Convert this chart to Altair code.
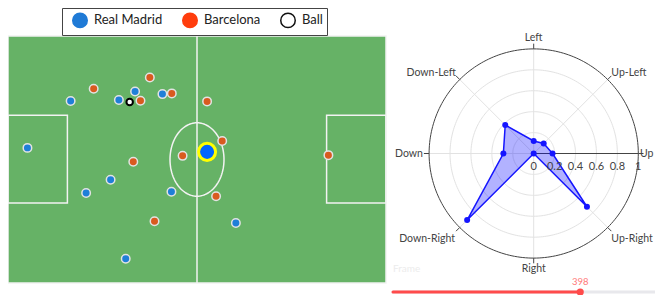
import altair as alt
import numpy as np
import pandas as pd

# ---------------- data ----------------
teams = ["Real Madrid", "Barcelona", "Ball"]
legend_fill = ["#1f7ad6", "#ff3d0d", "#ffffff"]
legend_stroke = ["#1f7ad6", "#ff3d0d", "#111111"]

# player positions on a 105 x 68 pitch (metres, y measured from bottom touchline)
rm_x = [35.3, 42.9, 17.4, 30.8, 5.4, 28.5, 21.7, 45.4, 32.7, 63.3]
rm_y = [52.7, 52.0, 50.1, 50.4, 37.2, 28.4, 24.8, 25.1, 6.7, 16.5]
fcb_x = [39.4, 23.8, 45.5, 36.8, 48.5, 34.8, 40.7, 55.3, 59.5, 89.0, 57.8]
fcb_y = [56.6, 53.5, 52.2, 50.2, 35.0, 33.4, 17.0, 50.0, 39.1, 35.2, 23.9]
ball_x = [33.8]
ball_y = [49.8]
carrier_x = [55.3]
carrier_y = [36.1]

directions = ["Up", "Up-Left", "Left", "Down-Left", "Down", "Down-Right", "Right", "Up-Right"]
dir_angles = [0, 45, 90, 135, 180, 225, 270, 315]
dir_values = [0.18, 0.135, 0.12, 0.385, 0.29, 0.90, 0.0, 0.72]
radial_ticks = [0, 0.2, 0.4, 0.6, 0.8, 1]
radial_tick_labels = ["0", "0.2", "0.4", "0.6", "0.8", "1"]

frame_label = "Frame"
frame_min = 0
frame_max = 574
frame_current = 398

# ---------------- layout ----------------
W, H = 647, 287
PITCH_L, PITCH_W = 105.0, 68.0
F_PX0, F_PX1 = 0.0, 378.0
F_PY0, F_PY1 = 28.0, 275.0
kx = (F_PX1 - F_PX0) / PITCH_L
ky = (F_PY1 - F_PY0) / PITCH_W
fxs = alt.Scale(domain=[-F_PX0 / kx, (W - F_PX0) / kx], nice=False, zero=False)
fys = alt.Scale(domain=[-(H - F_PY1) / ky, PITCH_W + F_PY0 / ky], nice=False, zero=False)

RCX, RCY, RR = 525.7, 145.5, 104.6
rxs = alt.Scale(domain=[-RCX / RR, (W - RCX) / RR], nice=False, zero=False)
rys = alt.Scale(domain=[-(H - RCY) / RR, RCY / RR], nice=False, zero=False)

S_PX0, S_PX1, S_PY = 385.0, 655.0, 284
ks = (S_PX1 - S_PX0) / (frame_max - frame_min)
sxs = alt.Scale(domain=[frame_min - S_PX0 / ks, frame_min + (W - S_PX0) / ks], nice=False, zero=False)

FONT = "Lato"
GREEN = "#66b266"
LINE = "#f2f2f2"


def FX(f):
    return alt.X(f"{f}:Q", scale=fxs, axis=None)


def FY(f):
    return alt.Y(f"{f}:Q", scale=fys, axis=None)


def RX(f):
    return alt.X(f"{f}:Q", scale=rxs, axis=None)


def RY(f):
    return alt.Y(f"{f}:Q", scale=rys, axis=None)


# ---------------- pitch ----------------
pitch_df = pd.DataFrame({"x": [0.0], "x2": [PITCH_L], "y": [0.0], "y2": [PITCH_W]})
pitch = alt.Chart(pitch_df).mark_rect(fill=GREEN, stroke=LINE, strokeWidth=1.5).encode(
    x=FX("x"), x2="x2", y=FY("y"), y2="y2")

mid_df = pd.DataFrame({"x": [PITCH_L / 2], "y": [0.0], "y2": [PITCH_W]})
midline = alt.Chart(mid_df).mark_rule(color=LINE, strokeWidth=1.5).encode(x=FX("x"), y=FY("y"), y2="y2")

box_df = pd.DataFrame({"x": [0.0, PITCH_L - 16.5], "x2": [16.5, PITCH_L],
                       "y": [22.0, 22.0], "y2": [46.2, 46.2]})
boxes = alt.Chart(box_df).mark_rect(fillOpacity=0, stroke=LINE, strokeWidth=1.5).encode(
    x=FX("x"), x2="x2", y=FY("y"), y2="y2")

t = np.linspace(0, 2 * np.pi, 121)
circ_df = pd.DataFrame({"i": np.arange(len(t)),
                        "x": PITCH_L / 2 + 7.5 * np.cos(t),
                        "y": PITCH_W / 2 + 10.1 * np.sin(t)})
centre = alt.Chart(circ_df).mark_line(color=LINE, strokeWidth=1.5).encode(
    x=FX("x"), y=FY("y"), order="i:Q")

rm_df = pd.DataFrame({"x": rm_x, "y": rm_y})
fcb_df = pd.DataFrame({"x": fcb_x, "y": fcb_y})
rm_pts = alt.Chart(rm_df).mark_circle(size=72, fill="#1f7fd8", stroke="#e3e3e3",
                                      strokeWidth=1.5, opacity=1).encode(x=FX("x"), y=FY("y"))
fcb_pts = alt.Chart(fcb_df).mark_circle(size=72, fill="#d95a1f", stroke="#e3e3e3",
                                        strokeWidth=1.5, opacity=1).encode(x=FX("x"), y=FY("y"))
ball = alt.Chart(pd.DataFrame({"x": ball_x, "y": ball_y})).mark_circle(
    size=42, fill="white", stroke="black", strokeWidth=2, opacity=1).encode(x=FX("x"), y=FY("y"))
carrier = alt.Chart(pd.DataFrame({"x": carrier_x, "y": carrier_y})).mark_circle(
    size=290, fill="#0066ff", stroke="#ffff00", strokeWidth=3, opacity=1).encode(x=FX("x"), y=FY("y"))

# legend (entries drawn from an off-canvas layer)
leg = alt.Legend(orient="none", legendX=54, legendY=0, direction="horizontal", title=None,
                 strokeColor="#444", padding=4, symbolOffset=6, symbolSize=210, symbolStrokeWidth=1.5,
                 symbolType="circle", labelFontSize=13, labelFont=FONT, labelColor="#222",
                 columnPadding=13, labelOffset=6, fillColor="white")
legend_df = pd.DataFrame({"team": teams, "x": [-400.0] * 3, "y": [-400.0] * 3})
legend_layer = alt.Chart(legend_df).mark_circle(size=10, opacity=1).encode(
    x=FX("x"), y=FY("y"),
    fill=alt.Fill("team:N", scale=alt.Scale(domain=teams, range=legend_fill), legend=leg),
    stroke=alt.Stroke("team:N", scale=alt.Scale(domain=teams, range=legend_stroke), legend=leg),
)

# ---------------- radar ----------------
tt = np.linspace(0, 2 * np.pi, 241)
ring_rows = []
for r in radial_ticks[1:]:
    for i, a in enumerate(tt):
        ring_rows.append({"r": r, "i": i, "u": r * np.cos(a), "v": r * np.sin(a)})
ring_df = pd.DataFrame(ring_rows)
rings = alt.Chart(ring_df).transform_filter("datum.r < 1").mark_line(color="#e2e2e2", strokeWidth=1).encode(
    x=RX("u"), y=RY("v"), detail="r:N", order="i:Q")
outer = alt.Chart(ring_df).transform_filter("datum.r >= 1").mark_line(color="#444", strokeWidth=1).encode(
    x=RX("u"), y=RY("v"), order="i:Q")

spoke_rows, tick_rows = [], []
for d, a in zip(directions, dir_angles):
    ar = np.deg2rad(a)
    for k, r in enumerate([0.0, 1.0]):
        spoke_rows.append({"d": d, "k": k, "u": r * np.cos(ar), "v": r * np.sin(ar), "a": a})
    for k, r in enumerate([1.0, 1.05]):
        tick_rows.append({"d": d, "k": k, "u": r * np.cos(ar), "v": r * np.sin(ar)})
spoke_df = pd.DataFrame(spoke_rows)
spokes = alt.Chart(spoke_df).transform_filter("datum.a != 0").mark_line(color="#e2e2e2", strokeWidth=1).encode(
    x=RX("u"), y=RY("v"), detail="d:N", order="k:Q")
raxis = alt.Chart(spoke_df).transform_filter("datum.a == 0").mark_line(color="#444", strokeWidth=1).encode(
    x=RX("u"), y=RY("v"), order="k:Q")
ticks = alt.Chart(pd.DataFrame(tick_rows)).mark_line(color="#444", strokeWidth=1).encode(
    x=RX("u"), y=RY("v"), detail="d:N", order="k:Q")

rt_df = pd.DataFrame({"r": radial_ticks, "lab": radial_tick_labels, "v": [0.0] * len(radial_ticks)})
rt_labels = alt.Chart(rt_df).mark_text(baseline="top", dy=7, fontSize=11, font=FONT, color="#444").encode(
    x=RX("r"), y=RY("v"), text="lab:N")

poly_df = pd.DataFrame({
    "d": directions, "k": np.arange(len(directions)),
    "u": [v * np.cos(np.deg2rad(a)) for v, a in zip(dir_values, dir_angles)],
    "v": [v * np.sin(np.deg2rad(a)) for v, a in zip(dir_values, dir_angles)],
})
poly = alt.Chart(poly_df).mark_line(interpolate="linear-closed", color="#1515ff", strokeWidth=1.5,
                                    fill="#0000ff", fillOpacity=0.3).encode(
    x=RX("u"), y=RY("v"), order="k:Q")
poly_pts = alt.Chart(poly_df).mark_circle(size=36, color="#1515ff", opacity=1).encode(x=RX("u"), y=RY("v"))

lab_df = pd.DataFrame({
    "d": directions,
    "u": [1.05 * np.cos(np.deg2rad(a)) for a in dir_angles],
    "v": [1.05 * np.sin(np.deg2rad(a)) for a in dir_angles],
})
label_specs = {
    "Up": dict(align="left", baseline="middle", dx=-3.5, dy=0),
    "Up-Left": dict(align="left", baseline="middle", dx=0, dy=-2.5),
    "Left": dict(align="center", baseline="bottom", dx=0, dy=-1),
    "Down-Left": dict(align="right", baseline="middle", dx=0, dy=-2.5),
    "Down": dict(align="right", baseline="middle", dx=-1, dy=0),
    "Down-Right": dict(align="right", baseline="middle", dx=-1, dy=8),
    "Right": dict(align="center", baseline="top", dx=0, dy=1),
    "Up-Right": dict(align="left", baseline="middle", dx=0, dy=8),
}
dir_labels = []
for d in directions:
    s = label_specs[d]
    dir_labels.append(
        alt.Chart(lab_df).transform_filter(alt.datum.d == d).mark_text(
            fontSize=10.5, font=FONT, color="#444", **s).encode(x=RX("u"), y=RY("v"), text="d:N"))

# ---------------- slider ----------------
sl_df = pd.DataFrame({"f0": [frame_min], "f1": [frame_max], "fc": [frame_current], "lab": [frame_label]})
SX = lambda f: alt.X(f"{f}:Q", scale=sxs, axis=None)
track = alt.Chart(sl_df).mark_rule(color="#e8e8ec", strokeWidth=3, strokeCap="round").encode(
    x=SX("f0"), x2="f1", y=alt.value(S_PY))
track_on = alt.Chart(sl_df).mark_rule(color="#ff4b4b", strokeWidth=3, strokeCap="round").encode(
    x=SX("f0"), x2="fc", y=alt.value(S_PY))
handle = alt.Chart(sl_df).mark_circle(size=52, color="#ff4b4b", opacity=1).encode(
    x=SX("fc"), y=alt.value(S_PY))
handle_lab = alt.Chart(sl_df).mark_text(fontSize=9.5, font=FONT, color="#ff7a7a").encode(
    x=SX("fc"), y=alt.value(S_PY - 10), text="fc:Q")
frame_txt = alt.Chart(sl_df).mark_text(align="left", fontSize=10, font=FONT, color="#ececec").encode(
    x=SX("f0"), y=alt.value(S_PY - 23), text="lab:N")

layers = [pitch, midline, boxes, centre, rm_pts, fcb_pts, ball, carrier, legend_layer,
          rings, spokes, outer, raxis, ticks, poly, poly_pts, rt_labels] + dir_labels + \
         [track, track_on, handle, handle_lab, frame_txt]

chart = alt.layer(*layers).resolve_scale(x="independent", y="independent").properties(
    width=W, height=H, padding=0, autosize=alt.AutoSizeParams(type="none"),
    background="white",
).configure_view(stroke=None).configure_text(font=FONT)

chart.save("out.html", embed_options={"renderer": "svg", "actions": False})
